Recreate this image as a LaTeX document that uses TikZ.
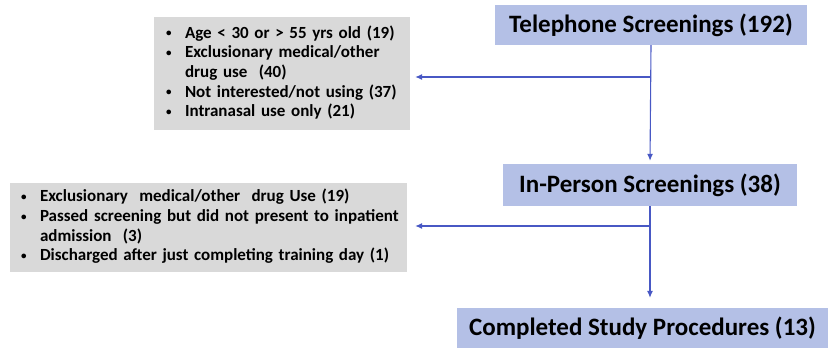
\documentclass[tikz,border=0pt]{standalone}
\usepackage{fontspec}
\setmainfont{Carlito}
\usetikzlibrary{arrows.meta}
\definecolor{boxblue}{RGB}{180,192,230}
\definecolor{boxgrey}{RGB}{217,217,217}
\definecolor{flowblue}{RGB}{72,88,196}
\newcommand{\bul}{\makebox[20pt][l]{\hspace*{1pt}\raisebox{1.5pt}{\fontsize{11}{11}\selectfont\textbullet}}}
\newcommand{\ind}{\hspace*{20pt}}
\tikzset{
	stage/.style={fill=boxblue, inner sep=0pt, font=\fontsize{25}{30}\selectfont\bfseries},
	excl/.style={fill=boxgrey, inner ysep=0pt, align=left, font=\fontsize{17}{19.7}\selectfont\bfseries},
	flow/.style={draw=flowblue, line width=1.1pt, -{Latex[length=7pt,width=6pt]}}
}

\begin{document}
\begin{tikzpicture}[x=1pt,y=-1pt]
	\useasboundingbox (0,0) rectangle (835,350);
	\node [stage, minimum width=312pt, minimum height=40pt] (tel) at (651,25) {Telephone Screenings (192)};
	\node [stage, minimum width=294pt, minimum height=42pt] (inp) at (650,185) {In-Person Screenings (38)};
	\node [stage, minimum width=371pt, minimum height=40pt] (comp) at (642.5,328) {Completed Study Procedures (13)};
	\node [excl, inner xsep=11pt, text width=234pt, minimum height=113pt] (ex1) at (282,73.5) {%
		\begin{tabular}{@{}l@{}}
		\bul Age < 30 or > 55 yrs old (19)\\
		\bul Exclusionary medical/other\\
		\ind drug use\ \ (40)\\
		\bul Not interested/not using (37)\\
		\bul Intranasal use only (21)
		\end{tabular}};
	\node [excl, inner xsep=10pt, text width=377pt, minimum height=89pt] (ex2) at (208.5,227.5) {%
		\begin{tabular}{@{}l@{}}
		\bul Exclusionary\ \ medical/other\ \ drug Use (19)\\
		\bul Passed screening but did not present to inpatient\\
		\ind admission\ \ (3)\\
		\bul Discharged after just completing training day (1)
		\end{tabular}};
	\coordinate (split1) at (tel.south |- 0,77);
	\coordinate (split2) at (inp.south |- 0,226);
	\draw [flow, shorten >=3pt] (tel.south) -- (inp.north);
	\draw [flow, shorten >=5pt] (split1) -- (ex1.east |- split1);
	\draw [flow, shorten >=8pt] (split2) -- (ex2.east |- split2);
	\draw [flow, shorten >=10pt] (inp.south) -- (inp.south |- comp.north);
\end{tikzpicture}
\end{document}
